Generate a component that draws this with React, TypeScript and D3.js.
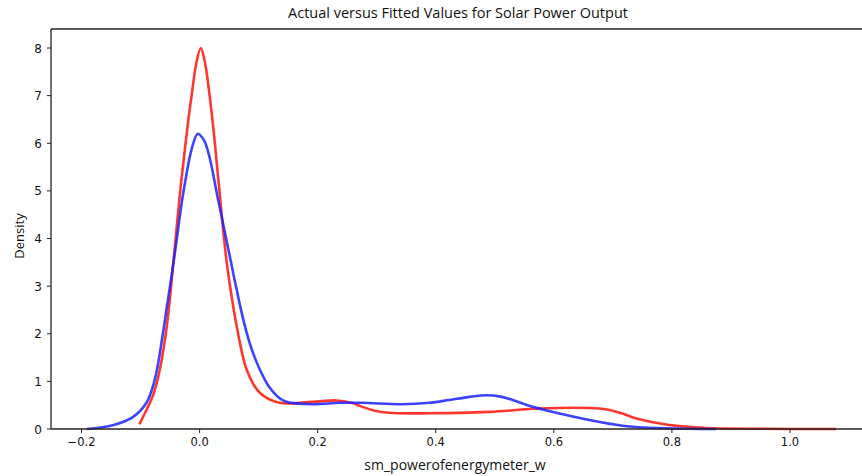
import React from "react";
import * as d3 from "d3";

const redX = [-0.102, -0.09, -0.079, -0.069, -0.058, -0.051, -0.046, -0.039, -0.032, -0.025, -0.019, -0.0135, -0.006, 0.002, 0.009, 0.017, 0.023, 0.029, 0.034, 0.039, 0.045, 0.051, 0.063, 0.08, 0.102, 0.135, 0.191, 0.232, 0.257, 0.275, 0.295, 0.321, 0.389, 0.491, 0.575, 0.66, 0.69, 0.715, 0.74, 0.773, 0.812, 0.858, 0.948, 1.078];
const redY = [0.1, 0.4, 0.7, 1.15, 1.93, 2.65, 3.3, 4.2, 5.1, 5.86, 6.5, 7.0, 7.65, 8.0, 7.7, 7.0, 6.35, 5.6, 4.95, 4.3, 3.6, 3.05, 2.15, 1.24, 0.76, 0.55, 0.57, 0.6, 0.55, 0.47, 0.39, 0.34, 0.33, 0.36, 0.43, 0.44, 0.41, 0.33, 0.22, 0.13, 0.06, 0.02, 0.004, 0.0];

const blueX = [-0.191, -0.147, -0.113, -0.09, -0.076, -0.063, -0.055, -0.047, -0.039, -0.032, -0.025, -0.013, -0.003, 0.008, 0.017, 0.03, 0.045, 0.059, 0.073, 0.085, 0.096, 0.107, 0.118, 0.135, 0.147, 0.191, 0.237, 0.276, 0.343, 0.389, 0.423, 0.455, 0.486, 0.51, 0.53, 0.553, 0.604, 0.66, 0.716, 0.756, 0.829, 0.875];
const blueY = [0.0, 0.08, 0.25, 0.55, 1.03, 1.93, 2.6, 3.25, 3.95, 4.6, 5.15, 5.9, 6.2, 6.05, 5.7, 4.9, 4.0, 3.15, 2.35, 1.8, 1.42, 1.12, 0.88, 0.65, 0.57, 0.52, 0.55, 0.55, 0.52, 0.55, 0.61, 0.67, 0.71, 0.68, 0.61, 0.51, 0.34, 0.19, 0.07, 0.03, 0.005, 0.0];

const xTicks = [-0.2, 0.0, 0.2, 0.4, 0.6, 0.8, 1.0];
const yTicks = [0, 1, 2, 3, 4, 5, 6, 7, 8];

const title = "Actual versus Fitted Values for Solar Power Output";
const xLabel = "sm_powerofenergymeter_w";
const yLabel = "Density";

export default function App() {
  const W = 862, H = 476;
  const left = 51, top = 29, bottom = 429, right = 870;
  const x = d3.scaleLinear().domain([-0.2, 1.0]).range([81.5, 790]);
  const y = d3.scaleLinear().domain([0, 8]).range([429, 48]);
  const line = d3
    .line<[number, number]>()
    .x((d) => x(d[0]))
    .y((d) => y(d[1]))
    .curve(d3.curveCatmullRom.alpha(0.5));
  const redPts = redX.map((v, i) => [v, redY[i]] as [number, number]);
  const bluePts = blueX.map((v, i) => [v, blueY[i]] as [number, number]);
  const fmt = (v: number) => (v < 0 ? "\u2212" : "") + Math.abs(v).toFixed(1);
  const tickFont = "DejaVu Sans, sans-serif";
  const labelFont = "Open Sans, sans-serif";
  return (
    <div style={{ position: "absolute", left: 0, top: 0 }}>
      <svg width={W} height={H} style={{ display: "block", background: "#fff" }}>
        <text x={458} y={18} textAnchor="middle" fontFamily={labelFont} fontSize={14.5} fill="#111">
          {title}
        </text>
        <path d={line(redPts) || ""} fill="none" stroke="#ff1a10" strokeOpacity={0.88} strokeWidth={2.6} />
        <path d={line(bluePts) || ""} fill="none" stroke="#1a22ff" strokeOpacity={0.85} strokeWidth={2.6} />
        <line x1={left} x2={right} y1={top} y2={top} stroke="#2a2020" strokeWidth={1.3} />
        <line x1={left} x2={right} y1={bottom} y2={bottom} stroke="#2a2020" strokeWidth={1.3} />
        <line x1={left} x2={left} y1={top} y2={bottom} stroke="#2a2020" strokeWidth={1.3} />
        {xTicks.map((t) => (
          <g key={"x" + t}>
            <line x1={x(t)} x2={x(t)} y1={bottom} y2={bottom + 4} stroke="#222" strokeWidth={1} />
            <text x={x(t)} y={446} textAnchor="middle" fontFamily={tickFont} fontSize={11.5} fill="#111">
              {fmt(t)}
            </text>
          </g>
        ))}
        {yTicks.map((t) => (
          <g key={"y" + t}>
            <line x1={left - 4} x2={left} y1={y(t)} y2={y(t)} stroke="#222" strokeWidth={1} />
            <text x={42} y={y(t) + 4.5} textAnchor="end" fontFamily={tickFont} fontSize={12} fill="#111">
              {t}
            </text>
          </g>
        ))}
        <text x={455} y={470} textAnchor="middle" fontFamily={labelFont} fontSize={14} fill="#111">
          {xLabel}
        </text>
        <text
          transform={`translate(24,236) rotate(-90)`}
          textAnchor="middle"
          fontFamily={labelFont}
          fontSize={13}
          fill="#111"
        >
          {yLabel}
        </text>
      </svg>
    </div>
  );
}
